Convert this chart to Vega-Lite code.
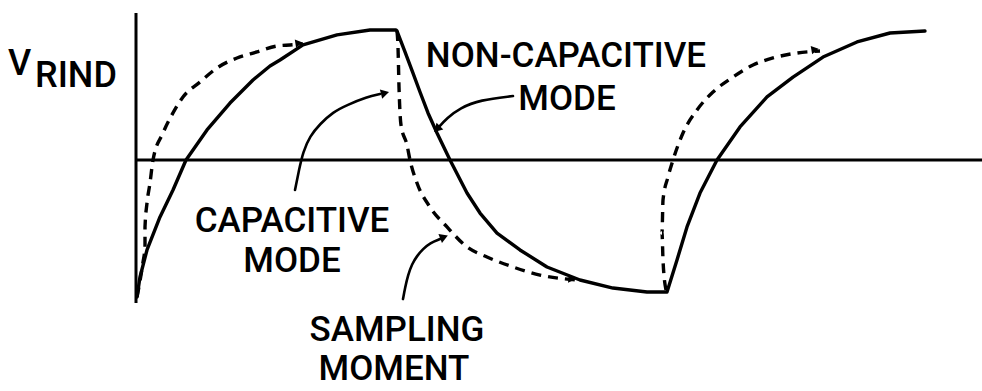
{
  "$schema": "https://vega.github.io/schema/vega-lite/v6.json",
  "width": 982,
  "height": 391,
  "autosize": {"type": "none"},
  "padding": 0,
  "background": "white",
  "config": {"view": {"stroke": null}},
  "datasets": {
    "axes": [
      {"id": "vertical", "i": 0, "t": 0, "v": -1.1},
      {"id": "vertical", "i": 1, "t": 0, "v": 1.131},
      {"id": "horizontal", "i": 0, "t": 0, "v": 0},
      {"id": "horizontal", "i": 1, "t": 338.4, "v": 0}
    ],
    "noncap": [
      {"i": 0, "t": 0.4, "v": -1.054},
      {"i": 1, "t": 1.6, "v": -0.9},
      {"i": 2, "t": 4.4, "v": -0.692},
      {"i": 3, "t": 9.6, "v": -0.438},
      {"i": 4, "t": 14.8, "v": -0.231},
      {"i": 5, "t": 20.0, "v": 0},
      {"i": 6, "t": 28.4, "v": 0.231},
      {"i": 7, "t": 37.6, "v": 0.438},
      {"i": 8, "t": 46.8, "v": 0.615},
      {"i": 9, "t": 53.6, "v": 0.723},
      {"i": 10, "t": 57.6, "v": 0.769},
      {"i": 11, "t": 66.8, "v": 0.885},
      {"i": 12, "t": 80.4, "v": 0.962},
      {"i": 13, "t": 93.6, "v": 1.0},
      {"i": 14, "t": 104.0, "v": 1.0},
      {"i": 15, "t": 104.4, "v": 0.992},
      {"i": 16, "t": 107.6, "v": 0.831},
      {"i": 17, "t": 110.8, "v": 0.669},
      {"i": 18, "t": 113.6, "v": 0.523},
      {"i": 19, "t": 116.8, "v": 0.362},
      {"i": 20, "t": 120.4, "v": 0.208},
      {"i": 21, "t": 125.6, "v": 0},
      {"i": 22, "t": 132.4, "v": -0.254},
      {"i": 23, "t": 137.6, "v": -0.408},
      {"i": 24, "t": 144.4, "v": -0.562},
      {"i": 25, "t": 153.6, "v": -0.692},
      {"i": 26, "t": 164.4, "v": -0.823},
      {"i": 27, "t": 177.6, "v": -0.923},
      {"i": 28, "t": 190.8, "v": -0.985},
      {"i": 29, "t": 204.4, "v": -1.015},
      {"i": 30, "t": 211.6, "v": -1.015},
      {"i": 31, "t": 212.4, "v": -1.015},
      {"i": 32, "t": 216.4, "v": -0.769},
      {"i": 33, "t": 220.4, "v": -0.515},
      {"i": 34, "t": 225.6, "v": -0.254},
      {"i": 35, "t": 232.4, "v": 0},
      {"i": 36, "t": 241.6, "v": 0.254},
      {"i": 37, "t": 252.4, "v": 0.485},
      {"i": 38, "t": 262.8, "v": 0.638},
      {"i": 39, "t": 274.8, "v": 0.792},
      {"i": 40, "t": 288.4, "v": 0.908},
      {"i": 41, "t": 301.6, "v": 0.977},
      {"i": 42, "t": 315.6, "v": 0.992}
    ],
    "cap": [
      {"seg": 1, "i": 0, "t": 0.4, "v": -1.054},
      {"seg": 1, "i": 1, "t": 2.8, "v": -0.785},
      {"seg": 1, "i": 2, "t": 3.6, "v": -0.669},
      {"seg": 1, "i": 3, "t": 3.6, "v": -0.515},
      {"seg": 1, "i": 4, "t": 4.4, "v": -0.331},
      {"seg": 1, "i": 5, "t": 5.6, "v": -0.177},
      {"seg": 1, "i": 6, "t": 6.8, "v": 0},
      {"seg": 1, "i": 7, "t": 10.8, "v": 0.208},
      {"seg": 1, "i": 8, "t": 14.8, "v": 0.362},
      {"seg": 1, "i": 9, "t": 18.8, "v": 0.485},
      {"seg": 1, "i": 10, "t": 25.6, "v": 0.6},
      {"seg": 1, "i": 11, "t": 32.4, "v": 0.708},
      {"seg": 1, "i": 12, "t": 40.4, "v": 0.785},
      {"seg": 1, "i": 13, "t": 48.4, "v": 0.831},
      {"seg": 1, "i": 14, "t": 56.4, "v": 0.877},
      {"seg": 1, "i": 15, "t": 61.6, "v": 0.885},
      {"seg": 1, "i": 16, "t": 66.8, "v": 0.892},
      {"seg": 2, "i": 0, "t": 104.4, "v": 0.992},
      {"seg": 2, "i": 1, "t": 104.8, "v": 0.869},
      {"seg": 2, "i": 2, "t": 105.2, "v": 0.562},
      {"seg": 2, "i": 3, "t": 106.0, "v": 0.269},
      {"seg": 2, "i": 4, "t": 108.4, "v": 0.115},
      {"seg": 2, "i": 5, "t": 109.6, "v": 0},
      {"seg": 2, "i": 6, "t": 112.4, "v": -0.177},
      {"seg": 2, "i": 7, "t": 117.6, "v": -0.362},
      {"seg": 2, "i": 8, "t": 124.4, "v": -0.515},
      {"seg": 2, "i": 9, "t": 132.4, "v": -0.669},
      {"seg": 2, "i": 10, "t": 140.4, "v": -0.746},
      {"seg": 2, "i": 11, "t": 150.8, "v": -0.823},
      {"seg": 2, "i": 12, "t": 161.6, "v": -0.885},
      {"seg": 2, "i": 13, "t": 176.4, "v": -0.923},
      {"seg": 3, "i": 0, "t": 212.0, "v": -1.0},
      {"seg": 3, "i": 1, "t": 210.8, "v": -0.769},
      {"seg": 3, "i": 2, "t": 210.4, "v": -0.562},
      {"seg": 3, "i": 3, "t": 210.8, "v": -0.308},
      {"seg": 3, "i": 4, "t": 212.8, "v": -0.131},
      {"seg": 3, "i": 5, "t": 214.8, "v": 0},
      {"seg": 3, "i": 6, "t": 218.8, "v": 0.208},
      {"seg": 3, "i": 7, "t": 224.4, "v": 0.385},
      {"seg": 3, "i": 8, "t": 230.8, "v": 0.523},
      {"seg": 3, "i": 9, "t": 238.8, "v": 0.638},
      {"seg": 3, "i": 10, "t": 246.8, "v": 0.731},
      {"seg": 3, "i": 11, "t": 254.8, "v": 0.785},
      {"seg": 3, "i": 12, "t": 264.4, "v": 0.823},
      {"seg": 3, "i": 13, "t": 273.6, "v": 0.838}
    ],
    "leaders": [
      {"id": "noncap", "i": 0, "t": 150.8, "v": 0.492},
      {"id": "noncap", "i": 1, "t": 137.6, "v": 0.462},
      {"id": "noncap", "i": 2, "t": 129.6, "v": 0.4},
      {"id": "noncap", "i": 3, "t": 124.4, "v": 0.323},
      {"id": "noncap", "i": 4, "t": 120.8, "v": 0.246},
      {"id": "cap", "i": 0, "t": 63.6, "v": -0.231},
      {"id": "cap", "i": 1, "t": 65.2, "v": -0.077},
      {"id": "cap", "i": 2, "t": 66.8, "v": 0.062},
      {"id": "cap", "i": 3, "t": 69.6, "v": 0.185},
      {"id": "cap", "i": 4, "t": 73.6, "v": 0.277},
      {"id": "cap", "i": 5, "t": 78.8, "v": 0.369},
      {"id": "cap", "i": 6, "t": 84.4, "v": 0.423},
      {"id": "cap", "i": 7, "t": 92.4, "v": 0.485},
      {"id": "cap", "i": 8, "t": 97.6, "v": 0.508},
      {"id": "sampling", "i": 0, "t": 106.8, "v": -1.07},
      {"id": "sampling", "i": 1, "t": 107.6, "v": -0.985},
      {"id": "sampling", "i": 2, "t": 108.8, "v": -0.885},
      {"id": "sampling", "i": 3, "t": 110.4, "v": -0.8},
      {"id": "sampling", "i": 4, "t": 112.4, "v": -0.738},
      {"id": "sampling", "i": 5, "t": 114.8, "v": -0.685},
      {"id": "sampling", "i": 6, "t": 117.6, "v": -0.638},
      {"id": "sampling", "i": 7, "t": 121.6, "v": -0.608}
    ],
    "heads": [
      {"id": "noncap", "t": 120.4, "v": 0.238},
      {"id": "cap", "t": 99.6, "v": 0.515},
      {"id": "sampling", "t": 123.2, "v": -0.592},
      {"id": "join1", "t": 65.2, "v": 0.9},
      {"id": "join2", "t": 174.4, "v": -0.915},
      {"id": "join3", "t": 271.6, "v": 0.85}
    ],
    "labels": [
      {"text": "NON-CAPACITIVE", "t": 172.0, "v": 0.715},
      {"text": "MODE", "t": 172.4, "v": 0.385},
      {"text": "CAPACITIVE", "t": 62.4, "v": -0.554},
      {"text": "MODE", "t": 62.4, "v": -0.862},
      {"text": "SAMPLING", "t": 104.4, "v": -1.392},
      {"text": "MOMENT", "t": 103.2, "v": -1.692}
    ],
    "ylabel": [
      {"text": "V", "t": -51.2, "v": 0.654},
      {"text": "RIND", "t": -40.4, "v": 0.562}
    ]
  },
  "encoding": {
    "x": {"field": "t", "type": "quantitative", "scale": {"domain": [-54.4, 338.4], "nice": false, "zero": false}, "axis": null},
    "y": {"field": "v", "type": "quantitative", "scale": {"domain": [-1.777, 1.2308], "nice": false, "zero": false}, "axis": null}
  },
  "layer": [
    {
      "data": {"name": "axes"},
      "mark": {"type": "line", "color": "black", "strokeWidth": 3, "strokeCap": "butt"},
      "encoding": {"detail": {"field": "id"}, "order": {"field": "i"}}
    },
    {
      "data": {"name": "noncap"},
      "mark": {"type": "line", "color": "black", "strokeWidth": 3.4, "strokeCap": "round", "strokeJoin": "round"},
      "encoding": {"order": {"field": "i"}}
    },
    {
      "data": {"name": "cap"},
      "mark": {"type": "line", "color": "black", "strokeWidth": 3.4, "strokeDash": [10, 7], "strokeCap": "butt", "interpolate": "monotone"},
      "encoding": {"detail": {"field": "seg"}, "order": {"field": "i"}}
    },
    {
      "data": {"name": "leaders"},
      "mark": {"type": "line", "color": "black", "strokeWidth": 2.6, "strokeCap": "round", "interpolate": "basis"},
      "encoding": {"detail": {"field": "id"}, "order": {"field": "i"}}
    },
    {
      "data": {"name": "heads"},
      "transform": [{"filter": "datum.id == 'noncap'"}],
      "mark": {"type": "point", "shape": "triangle-right", "filled": true, "color": "black", "opacity": 1, "size": 90, "angle": 135}
    },
    {
      "data": {"name": "heads"},
      "transform": [{"filter": "datum.id == 'cap'"}],
      "mark": {"type": "point", "shape": "triangle-right", "filled": true, "color": "black", "opacity": 1, "size": 90, "angle": 346}
    },
    {
      "data": {"name": "heads"},
      "transform": [{"filter": "datum.id == 'sampling'"}],
      "mark": {"type": "point", "shape": "triangle-right", "filled": true, "color": "black", "opacity": 1, "size": 90, "angle": 338}
    },
    {
      "data": {"name": "heads"},
      "transform": [{"filter": "datum.id == 'join1'"}],
      "mark": {"type": "point", "shape": "triangle-right", "filled": true, "color": "black", "opacity": 1, "size": 70, "angle": 351}
    },
    {
      "data": {"name": "heads"},
      "transform": [{"filter": "datum.id == 'join2'"}],
      "mark": {"type": "point", "shape": "triangle-right", "filled": true, "color": "black", "opacity": 1, "size": 70, "angle": 5}
    },
    {
      "data": {"name": "heads"},
      "transform": [{"filter": "datum.id == 'join3'"}],
      "mark": {"type": "point", "shape": "triangle-right", "filled": true, "color": "black", "opacity": 1, "size": 70, "angle": 350}
    },
    {
      "data": {"name": "labels"},
      "mark": {"type": "text", "font": "Roboto", "fontSize": 35, "fontWeight": 500, "color": "black", "align": "center", "baseline": "alphabetic"},
      "encoding": {"text": {"field": "text"}}
    },
    {
      "data": {"name": "ylabel"},
      "mark": {"type": "text", "font": "Roboto", "fontSize": 36, "fontWeight": 500, "color": "black", "align": "left", "baseline": "alphabetic"},
      "encoding": {"text": {"field": "text"}}
    }
  ]
}
